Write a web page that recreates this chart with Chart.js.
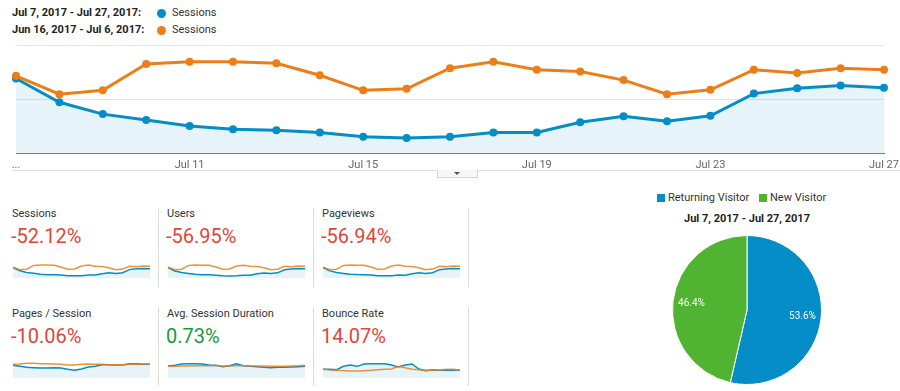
<!DOCTYPE html>
<html lang="en">
<head>
<meta charset="utf-8">
<title>Audience overview</title>
<script src="https://cdn.jsdelivr.net/npm/chart.js@4.4.1/dist/chart.umd.min.js"></script>
<style>
  html, body { margin: 0; padding: 0; background: #fff; }
  body {
    position: relative;
    width: 900px;
    height: 391px;
    overflow: hidden;
    font-family: Roboto, "Noto Sans", Arial, sans-serif;
    color: #333;
  }
  .abs { position: absolute; white-space: nowrap; }
  .range-label { font-size: 11px; line-height: 14px; font-weight: bold; color: #222; }
  .range-dot { width: 9px; height: 9px; border-radius: 50%; }
  .range-series { font-size: 11px; line-height: 14px; color: #333; }
  .main-chart { left: 0; top: 40px; width: 900px; height: 135px; }
  .divider { left: 12px; top: 170px; width: 888px; height: 1px; background: #e0e0e0; }
  .tab {
    left: 437px; top: 170px; width: 39px; height: 7px;
    border: 1px solid #d4d4d4; border-top: none; background: #f7f7f7;
  }
  .tab::after {
    content: ""; position: absolute; left: 16px; top: 2px;
    border-left: 3px solid transparent; border-right: 3px solid transparent; border-top: 3px solid #555;
  }
  .card-name { font-size: 11px; line-height: 14px; color: #333; }
  .card-change { font-size: 20px; line-height: 24px; }
  .card-sep { width: 1px; height: 79px; background: #dcdcdc; }
  .spark { width: 141px; height: 22px; }
  .pie-key { width: 8px; height: 8px; }
  .pie-legend { font-size: 11px; line-height: 14px; color: #333; }
  .pie-title { font-size: 11px; line-height: 14px; font-weight: bold; color: #222; width: 200px; text-align: center; }
  .pie-wrap { left: 672px; top: 235px; width: 150px; height: 150px; }
</style>
</head>
<body>
<div class="abs main-chart"><canvas id="sessionsChart"></canvas></div>
<div class="abs divider"></div>
<div class="abs tab"></div>
<div class="abs pie-wrap"><canvas id="visitorPie"></canvas></div>

<script>
const dayLabels = ["Jul 7", "Jul 8", "Jul 9", "Jul 10", "Jul 11", "Jul 12", "Jul 13", "Jul 14", "Jul 15", "Jul 16", "Jul 17",
  "Jul 18", "Jul 19", "Jul 20", "Jul 21", "Jul 22", "Jul 23", "Jul 24", "Jul 25", "Jul 26", "Jul 27"];
const rangeLabels = ["Jul 7, 2017 - Jul 27, 2017:", "Jun 16, 2017 - Jul 6, 2017:"];
const seriesName = "Sessions";

const sessionsCurrent = [138, 94, 72, 61, 50, 44, 42, 38, 30, 28, 30, 38, 38, 57, 68, 59, 69, 110, 120, 125, 121];
const sessionsPrevious = [143, 109, 116, 165, 169, 169, 166, 144, 116, 119, 157, 169, 154, 151, 135, 109, 117, 154, 148, 157, 154];
const usersCurrent = [126, 85, 65, 55, 45, 40, 38, 34, 27, 25, 27, 34, 34, 51, 61, 53, 62, 99, 108, 113, 110];
const usersPrevious = [130, 99, 106, 151, 155, 154, 152, 131, 105, 108, 143, 154, 140, 137, 123, 99, 106, 140, 134, 143, 140];
const pageviewsCurrent = [322, 218, 170, 141, 116, 104, 97, 89, 70, 66, 71, 90, 88, 133, 158, 137, 160, 256, 279, 292, 281];
const pageviewsPrevious = [334, 255, 271, 386, 395, 394, 388, 336, 271, 278, 367, 395, 360, 353, 315, 255, 273, 360, 346, 367, 360];
const pagesPerSessionCurrent = [3.17, 2.92, 2.67, 2.58, 2.5, 2.5, 2.58, 2.5, 2.17, 1.92, 2.25, 2.75, 2.92, 3.33, 3.33, 3.25, 3.25, 3.58, 3.58, 3.42, 3.42];
const pagesPerSessionPrevious = [3.42, 3.5, 3.67, 3.67, 3.58, 3.58, 3.5, 3.42, 3.25, 3.25, 3.42, 3.5, 3.42, 3.42, 3.33, 3.33, 3.33, 3.42, 3.42, 3.5, 3.5];
const avgDurationCurrent = [180, 190, 210, 215, 215, 210, 195, 190, 170, 185, 215, 185, 175, 170, 160, 155, 160, 160, 165, 170, 175];
const avgDurationPrevious = [175, 175, 180, 180, 185, 185, 185, 185, 180, 180, 185, 185, 180, 180, 180, 175, 175, 175, 180, 185, 190];
const bounceRateCurrent = [43.3, 43.3, 41.7, 58.3, 65, 58.3, 70, 71.7, 71.7, 71.7, 65, 55, 65, 70, 45, 36.7, 41.7, 38.3, 38.3, 38.3, 38.3];
const bounceRatePrevious = [43.3, 40, 38.3, 36.7, 35, 35, 36.7, 38.3, 41.7, 43.3, 45, 58.3, 51.7, 43.3, 41.7, 38.3, 38.3, 40, 43.3, 43.3, 38.3];

const metricNames = ["Sessions", "Users", "Pageviews", "Pages / Session", "Avg. Session Duration", "Bounce Rate"];
const metricChanges = [-52.12, -56.95, -56.94, -10.06, 0.73, 14.07];
const higherIsBetter = [true, true, true, true, true, false];

const visitorTypes = ["Returning Visitor", "New Visitor"];
const visitorShares = [53.6, 46.4];
const pieTitle = "Jul 7, 2017 - Jul 27, 2017";

const BLUE = "#058dc7";
const ORANGE = "#ed7e17";
const GREEN = "#50b432";
const FILL = "rgba(5,141,199,0.1)";

function addBox(className, left, top, text) {
  const el = document.createElement("div");
  el.className = "abs " + className;
  el.style.left = left + "px";
  el.style.top = top + "px";
  if (text !== undefined) el.textContent = text;
  document.body.appendChild(el);
  return el;
}

function drawSparkline(canvas, current, previous, yMax) {
  new Chart(canvas, {
    type: "line",
    data: {
      labels: dayLabels,
      datasets: [
        { data: previous, borderColor: "rgba(237,126,23,0.85)", borderWidth: 1.5, pointRadius: 0, fill: false, order: 0 },
        { data: current, borderColor: BLUE, backgroundColor: FILL, borderWidth: 1.5, pointRadius: 0, fill: "origin", order: 1 }
      ]
    },
    options: {
      animation: false,
      responsive: true,
      maintainAspectRatio: false,
      events: [],
      layout: { padding: { top: 4, bottom: 2, left: 2, right: 2 } },
      plugins: { legend: { display: false }, tooltip: { enabled: false } },
      scales: {
        x: { display: false },
        y: { display: false, min: 0, max: yMax }
      }
    }
  });
}

// white percentage labels inside the pie slices
const sliceLabels = {
  id: "sliceLabels",
  afterDatasetsDraw(chart) {
    const ctx = chart.ctx;
    const arcs = chart.getDatasetMeta(0).data;
    ctx.save();
    ctx.fillStyle = "#fff";
    ctx.font = "10px Roboto, Arial, sans-serif";
    ctx.textAlign = "center";
    ctx.textBaseline = "middle";
    arcs.forEach((arc, i) => {
      const mid = (arc.startAngle + arc.endAngle) / 2;
      const r = arc.outerRadius * 0.75;
      ctx.fillText(visitorShares[i].toFixed(1) + "%", arc.x + Math.cos(mid) * r, arc.y + Math.sin(mid) * r);
    });
    ctx.restore();
  }
};

document.addEventListener("DOMContentLoaded", () => {
  // date range legend
  const seriesColors = [BLUE, ORANGE];
  rangeLabels.forEach((label, i) => {
    const top = 6 + i * 17;
    addBox("range-label", 12, top, label);
    const dot = addBox("range-dot", 157, top + 2.5);
    dot.style.background = seriesColors[i];
    addBox("range-series", 172, top, seriesName);
  });

  new Chart(document.getElementById("sessionsChart"), {
    type: "line",
    data: {
      labels: dayLabels,
      datasets: [
        {
          label: rangeLabels[1], data: sessionsPrevious, borderColor: ORANGE, pointBackgroundColor: ORANGE,
          borderWidth: 3, pointRadius: 4, pointBorderWidth: 0, fill: false, order: 0
        },
        {
          label: rangeLabels[0], data: sessionsCurrent, borderColor: BLUE, pointBackgroundColor: BLUE, backgroundColor: FILL,
          borderWidth: 3, pointRadius: 4, pointBorderWidth: 0, fill: "origin", order: 1
        }
      ]
    },
    options: {
      animation: false,
      responsive: true,
      maintainAspectRatio: false,
      events: [],
      layout: { padding: { top: 5, left: 16, right: 16, bottom: 0 } },
      plugins: { legend: { display: false }, tooltip: { enabled: false } },
      scales: {
        x: {
          grid: { display: false, drawTicks: false },
          border: { display: true, color: "#777" },
          ticks: {
            autoSkip: false,
            maxRotation: 0,
            padding: 6,
            color: "#666",
            font: { size: 11, family: "Roboto" },
            callback: (value, index) => (index % 4 === 0 ? (index === 0 ? "..." : dayLabels[index]) : null)
          },
          afterFit: (scale) => {
            scale.height = 22;
            scale.paddingLeft = 0;
            scale.paddingRight = 0;
          }
        },
        y: {
          min: 0,
          max: 200,
          ticks: { display: false, stepSize: 100 },
          grid: { color: "#e6e6e6", drawTicks: false },
          border: { display: false },
          afterFit: (scale) => { scale.width = 0; }
        }
      }
    }
  });

  // scorecards
  const sparkData = [
    [sessionsCurrent, sessionsPrevious, 210],
    [usersCurrent, usersPrevious, 192],
    [pageviewsCurrent, pageviewsPrevious, 490],
    [pagesPerSessionCurrent, pagesPerSessionPrevious, 4],
    [avgDurationCurrent, avgDurationPrevious, 240],
    [bounceRateCurrent, bounceRatePrevious, 80]
  ];
  metricNames.forEach((name, i) => {
    const col = i % 3;
    const row = Math.floor(i / 3);
    const left = 12 + col * 155;
    const dy = row * 100;
    addBox("card-name", left, 207 + dy, name);
    const change = metricChanges[i];
    const good = (change > 0) === higherIsBetter[i];
    const ch = addBox("card-change", left - 1, 224 + dy, change.toFixed(2) + "%");
    ch.style.color = good ? "#1a9b3a" : "#e0463a";
    addBox("card-sep", 158 + col * 155, 208 + dy - row);

    const wrap = addBox("spark", left - 1, 258 + dy);
    const canvas = document.createElement("canvas");
    wrap.appendChild(canvas);
    drawSparkline(canvas, sparkData[i][0], sparkData[i][1], sparkData[i][2]);
  });

  // pie legend + title
  const pieColors = [BLUE, GREEN];
  const keyLefts = [657, 759];
  visitorTypes.forEach((type, i) => {
    const key = addBox("pie-key", keyLefts[i], 194);
    key.style.background = pieColors[i];
    addBox("pie-legend", keyLefts[i] + 11, 191, type);
  });
  addBox("pie-title", 647, 212, pieTitle);

  new Chart(document.getElementById("visitorPie"), {
    type: "pie",
    data: {
      labels: visitorTypes,
      datasets: [{ data: visitorShares, backgroundColor: pieColors, borderColor: "#fff", borderWidth: 1 }]
    },
    options: {
      animation: false,
      responsive: true,
      maintainAspectRatio: false,
      events: [],
      plugins: { legend: { display: false }, tooltip: { enabled: false } }
    },
    plugins: [sliceLabels]
  });
});
</script>
</body>
</html>
